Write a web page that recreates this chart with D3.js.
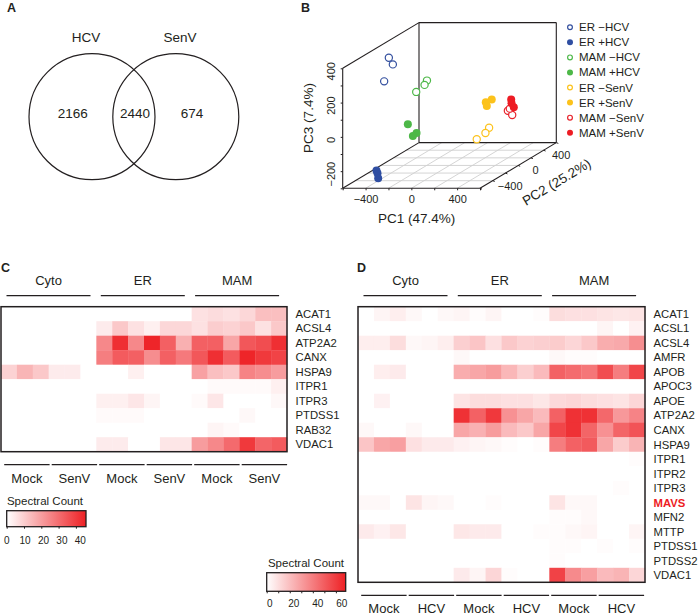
<!DOCTYPE html>
<html>
<head>
<meta charset="utf-8">
<script src="https://cdn.jsdelivr.net/npm/d3@7"></script>
<style>
  html, body { margin: 0; padding: 0; background: #fff; }
  svg { display: block; }
  text { font-family: "Liberation Sans", Arial, sans-serif; fill: #231f20; }
</style>
</head>
<body>
<div class="fig"></div>
<script>
// panel A
var vennSets = ["HCV", "SenV"];
var vennCounts = [2166, 2440, 674];

// panel B, PCA scores [PC1, PC2, PC3]
var pcaGroups = ["ER \u2212HCV", "ER +HCV", "MAM \u2212HCV", "MAM +HCV", "ER \u2212SenV", "ER +SenV", "MAM \u2212SenV", "MAM +SenV"];
var pcaColors = ["#34509f", "#2f4ea2", "#4db848", "#4db848", "#fcc21b", "#fcc21b", "#e8212a", "#ed1c24"];
var pcaFilled = [false, true, false, true, false, true, false, true];
var pcaScores = [
  [[-419, -200, 373], [-384, -200, 334], [-460, -200, 235]],
  [[-416, -400, -241], [-407, -400, -257], [-401, -400, -286]],
  [[-197, 0, 195], [-218, 0, 170], [-291, 0, 129]],
  [[-364, 0, -60], [-288, 0, -110], [-320, 0, -128]],
  [[235, 200, -124], [203, 200, -155], [127, 200, -192]],
  [[258, 200, 41], [206, 200, 24], [215, 200, 3]],
  [[399, 200, -25], [437, 200, -50], [416, 200, -13]],
  [[428, 200, 41], [431, 200, 18], [451, 200, -5]]
];
var pcaTicks = [-600, -400, -200, 0, 200, 400, 600];
var pc3Ticks = [-300, -200, -100, 0, 100, 200, 300, 400];

// panels C and D, spectral counts, 6 columns per compartment
var compartments = ["Cyto", "ER", "MAM"];
var cConditions = ["Mock", "SenV", "Mock", "SenV", "Mock", "SenV"];
var dConditions = ["Mock", "HCV", "Mock", "HCV", "Mock", "HCV"];

var cGenes = ["ACAT1", "ACSL4", "ATP2A2", "CANX", "HSPA9", "ITPR1", "ITPR3", "PTDSS1", "RAB32", "VDAC1"];
var cCounts = [
  [0,0,0,0,0,0, 0,0,0,0,0,0, 6,7,6,8,13,13],
  [0,0,0,0,0,0, 4,11,6,3,8,8, 6,10,9,11,6,11],
  [0,0,0,0,0,0, 24,42,24,44,32,16, 32,32,18,34,36,42],
  [0,0,0,0,0,0, 26,33,32,23,32,27, 34,42,33,44,40,38],
  [9,15,11,4,4,0, 0,0,3,0,0,0, 19,13,11,25,23,20],
  [0,0,0,0,0,0, 0,0,0,0,0,0, 0,1,1,1,1,3],
  [0,0,0,0,0,0, 3,3,5,2,0,0, 1,5,0,0,0,1.5],
  [0,0,0,0,0,0, 1,1,1,0,0,0, 0,0,0,1.5,0,0],
  [0,0,0,0,0,0, 0,0,0,0,0,0, 0,2,1,0,0,0],
  [0,0,0,0,0,0, 4,4,0,0,5,5, 20,24,30,40,31,33]
];

var dGenes = ["ACAT1", "ACSL1", "ACSL4", "AMFR", "APOB", "APOC3", "APOE", "ATP2A2", "CANX", "HSPA9", "ITPR1", "ITPR2", "ITPR3", "MAVS", "MFN2", "MTTP", "PTDSS1", "PTDSS2", "VDAC1"];
var dCounts = [
  [0,3,5,2,0,2, 3,1,3,0,0,1, 10,9,9,8,7,8],
  [0,0,0,0,0,0, 0,0,0,0,0,0, 0,0,0,3,0,4],
  [5,5,10,2,3,5, 14,17,9,16,13,14, 15,12,16,24,25,33],
  [0,0,0,0,0,0, 2,0,0,0,0,0, 2,1,1,0,0,0],
  [0,5,6,0,0,0, 24,26,29,21,14,20, 46,43,40,52,38,54],
  [0,0,0,0,0,0, 0,0,0,0,0,0, 0,0,0,0,0,0],
  [0,4,0,0,0,0, 8,10,10,9,9,7, 11,12,10,9,8,12],
  [0,0,0,0,0,0, 60,46,58,32,26,20, 46,60,60,44,30,36],
  [2,0,0,2,0,0, 26,23,29,20,16,26, 54,60,45,32,45,50],
  [17,26,28,9,6,6, 4,3,2,1,0,1, 38,46,48,26,15,22],
  [0,0,0,0,0,0, 0,0,0,0,0,0, 0,0,0,0,0,1],
  [0,0,0,0,0,0, 0,0,0,0,0,0, 0,0,0,0,0,0],
  [0,0,0,0,0,0, 0,0,0,0,0,0, 0,0,0,0,1,0],
  [2,2,0,8,3,2, 0,0,1,0,0,0, 8,2,2,0,0,0],
  [0,0,0,0,0,0, 0,0,0,0,0,0, 1,1,2,0,0,0],
  [6,4,7,0,0,0, 7,6,6,0,0,1, 1,2,3,0,0,3],
  [0,0,0,0,0,0, 0,0,0,0,0,0, 1,1,0,1,0,1],
  [0,0,0,0,0,0, 0,0,0,0,0,0, 1,0,0,0,0,0],
  [0,0,0,0,0,0, 6,3,12,1,0,0, 55,34,28,20,22,12]
];

var ink = "#231f20";
var red = "#ed1c24";

var svg = d3.select(".fig")
  .append("svg")
  .attr("width", 698)
  .attr("height", 615);

var defs = svg.append("defs");

function label(x, y, txt, size, anchor) {
  return svg.append("text")
    .attr("x", x)
    .attr("y", y)
    .attr("font-size", size)
    .attr("text-anchor", anchor || "middle")
    .text(txt);
}

// panel letters
[["A", 7, 11.5], ["B", 301, 11.5], ["C", 1, 271.5], ["D", 357, 271.5]].forEach(function(p) {
  label(p[1], p[2], p[0], 12.5, "start").attr("font-weight", "bold");
});

// A: venn
var vennX = d3.scaleOrdinal().domain(vennSets).range([92, 175.8]);
svg.selectAll(".venn")
  .data(vennSets)
  .enter().append("circle")
  .attr("class", "venn")
  .attr("cx", function(d) { return vennX(d); })
  .attr("cy", 116.7)
  .attr("r", 63)
  .attr("fill", "none")
  .attr("stroke", ink)
  .attr("stroke-width", 1.2);

label(86, 42, vennSets[0], 13.5);
label(180, 42, vennSets[1], 13.5);
var vennCountX = [72.7, 135, 192];
vennCounts.forEach(function(v, i) {
  label(vennCountX[i], 118, v, 13.5);
});

// B: 3D PCA, oblique projection out of three scales
var pc1 = d3.scaleLinear().domain([-600, 600]).range([342.7, 480]);
var pc3 = d3.scaleLinear().domain([-300, 400]).range([188.3, 68.3]);
var depthX = d3.scaleLinear().domain([-600, 600]).range([0, 76.3]);
var depthY = d3.scaleLinear().domain([-600, 600]).range([0, -45.7]);

function px(a, b) { return pc1(a) + depthX(b); }
function py(b, c) { return pc3(c) + depthY(b); }

var pca = svg.append("g");
var line3d = function(a0, b0, c0, a1, b1, c1) {
  return pca.append("line")
    .attr("x1", px(a0, b0)).attr("y1", py(b0, c0))
    .attr("x2", px(a1, b1)).attr("y2", py(b1, c1));
};

// floor grid
pcaTicks.slice(1, -1).forEach(function(t) {
  line3d(t, -600, -300, t, 600, -300).attr("stroke", "#cfcfcf").attr("stroke-width", 0.9);
  line3d(-600, t, -300, 600, t, -300).attr("stroke", "#cfcfcf").attr("stroke-width", 0.9);
});

// box edges
[
  [-600, -600, -300, 600, -600, -300],
  [600, -600, -300, 600, 600, -300],
  [600, 600, -300, -600, 600, -300],
  [-600, 600, -300, -600, -600, -300],
  [-600, -600, -300, -600, -600, 400],
  [-600, -600, 400, -600, 600, 400],
  [-600, 600, 400, 600, 600, 400],
  [600, 600, 400, 600, 600, -300],
  [-600, 600, 400, -600, 600, -300]
].forEach(function(e) {
  line3d(e[0], e[1], e[2], e[3], e[4], e[5]).attr("stroke", ink).attr("stroke-width", 1.1);
});

var pc1Axis = d3.axisBottom(pc1)
  .tickValues(pcaTicks)
  .tickSize(2)
  .tickPadding(5)
  .tickFormat(function(d) { return Math.abs(d) % 400 == 0 && Math.abs(d) < 600 ? String(d).replace("-", "\u2212") : ""; });

var gx = svg.append("g")
  .attr("transform", "translate(0,188.3)")
  .call(pc1Axis);
gx.select(".domain").remove();
gx.selectAll("line").attr("stroke", ink);
gx.selectAll("text").attr("font-size", 11).attr("font-family", "Liberation Sans").attr("fill", ink);

var pc3Axis = d3.axisLeft(pc3)
  .tickValues(pc3Ticks)
  .tickSize(2)
  .tickFormat(function(d) { return d % 200 == 0 ? String(d).replace("-", "\u2212") : ""; });

var gz = svg.append("g")
  .attr("transform", "translate(342.7,0)")
  .call(pc3Axis);
gz.select(".domain").remove();
gz.selectAll("line").attr("stroke", ink);
gz.selectAll("text")
  .attr("font-size", 11)
  .attr("font-family", "Liberation Sans")
  .attr("fill", ink)
  .attr("transform", "rotate(-90)")
  .attr("text-anchor", "middle")
  .attr("x", -2.5)
  .attr("y", -8)
  .attr("dy", 0);

// PC2 has no straight d3 axis, it runs along the floor edge
[-400, 0, 400].forEach(function(t) {
  label(px(600, t) + 17.5, py(t, -300) + 9, String(t).replace("-", "\u2212"), 11);
});
pcaTicks.forEach(function(t) {
  svg.append("line")
    .attr("x1", px(600, t)).attr("y1", py(t, -300))
    .attr("x2", px(600, t) + 2).attr("y2", py(t, -300) + 0.8)
    .attr("stroke", ink);
});

label(416.7, 223, "PC1 (47.4%)", 13.5);
label(0, 0, "PC3 (7.4%)", 13.5).attr("transform", "translate(313,118) rotate(-90)");
label(0, 0, "PC2 (25.2%)", 13.5).attr("transform", "translate(559,186) rotate(-31)");

pcaGroups.forEach(function(name, g) {
  pca.append("g")
    .selectAll("circle")
    .data(pcaScores[g])
    .enter().append("circle")
    .attr("cx", function(d) { return px(d[0], d[1]); })
    .attr("cy", function(d) { return py(d[1], d[2]); })
    .attr("r", pcaFilled[g] ? 4 : 3.6)
    .attr("fill", pcaFilled[g] ? pcaColors[g] : "#fff")
    .attr("stroke", pcaColors[g])
    .attr("stroke-width", pcaFilled[g] ? 0 : 1.2);
});

// B legend
var legendY = d3.scalePoint().domain(pcaGroups).range([27.3, 132.7]);
pcaGroups.forEach(function(name, g) {
  svg.append("circle")
    .attr("cx", 570)
    .attr("cy", legendY(name))
    .attr("r", pcaFilled[g] ? 3 : 2.4)
    .attr("fill", pcaFilled[g] ? pcaColors[g] : "#fff")
    .attr("stroke", pcaColors[g])
    .attr("stroke-width", pcaFilled[g] ? 0 : 1.2);
  label(579, legendY(name) + 4, name, 11.5, "start");
});

// C and D
function heatmap(o) {
  var x = d3.scaleBand().domain(d3.range(18)).range([o.left, o.right]);
  var y = d3.scaleBand().domain(o.genes).range([o.top, o.bottom]);
  var color = d3.scaleLinear().domain([0, o.max]).range(["#ffffff", "#ee2024"]).clamp(true);

  var cells = [];
  o.counts.forEach(function(row, r) {
    row.forEach(function(v, c) {
      cells.push({ gene: o.genes[r], col: c, value: v });
    });
  });

  svg.append("g")
    .selectAll("rect")
    .data(cells)
    .enter().append("rect")
    .attr("x", function(d) { return x(d.col); })
    .attr("y", function(d) { return y(d.gene); })
    .attr("width", x.bandwidth() + 0.3)
    .attr("height", y.bandwidth() + 0.3)
    .attr("fill", function(d) { return color(d.value); });

  svg.append("rect")
    .attr("x", o.left)
    .attr("y", o.top)
    .attr("width", o.right - o.left)
    .attr("height", o.bottom - o.top)
    .attr("fill", "none")
    .attr("stroke", ink)
    .attr("stroke-width", 1.5);

  o.genes.forEach(function(g) {
    var t = label(o.right + 8.5, y(g) + y.bandwidth() / 2 + 4, g, 11.3, "start");
    if (g == "MAVS") {
      t.attr("font-weight", "bold").style("fill", red);
    }
  });

  compartments.forEach(function(c, i) {
    var x0 = o.left + 5.5 + i * 94.3;
    svg.append("line")
      .attr("x1", x0).attr("x2", x0 + 84)
      .attr("y1", 295.7).attr("y2", 295.7)
      .attr("stroke", ink).attr("stroke-width", 1.2);
    label(x0 + 42, 285, c, 13);
  });

  o.conditions.forEach(function(c, i) {
    var x0 = o.left + 3.2 + i * 47.5;
    svg.append("line")
      .attr("x1", x0).attr("x2", x0 + 45.4)
      .attr("y1", o.bottom + 13).attr("y2", o.bottom + 13)
      .attr("stroke", ink).attr("stroke-width", 1.2);
    label(x0 + 22.7, o.bottom + 31, c, 13);
  });
}

heatmap({ left: 1, right: 287, top: 306.7, bottom: 451.7, genes: cGenes, counts: cCounts, conditions: cConditions, max: 45 });
heatmap({ left: 358, right: 645, top: 306.7, bottom: 582.3, genes: dGenes, counts: dCounts, conditions: dConditions, max: 65 });

// colour keys
function colorKey(o) {
  var grad = defs.append("linearGradient").attr("id", o.id);
  grad.append("stop").attr("offset", "0%").attr("stop-color", "#ffffff");
  grad.append("stop").attr("offset", "100%").attr("stop-color", "#ee2024");

  svg.append("rect")
    .attr("x", o.x0)
    .attr("y", o.y0)
    .attr("width", o.x1 - o.x0)
    .attr("height", o.y1 - o.y0)
    .attr("fill", "url(#" + o.id + ")")
    .attr("stroke", ink)
    .attr("stroke-width", 1.3);

  label(o.titleX, o.y0 - 5.5, "Spectral Count", 11.5);

  var tickScale = d3.scaleLinear().domain([0, 10]).range([o.x0, o.x0 + o.tickStep]);
  var marks = svg.append("g")
    .attr("transform", "translate(0," + o.y1 + ")")
    .call(d3.axisBottom(tickScale).tickValues(o.tickValues).tickSize(2).tickFormat(""));
  marks.select(".domain").remove();
  marks.selectAll("line").attr("stroke", ink);

  var labelScale = d3.scaleLinear().domain([0, o.labels[1]]).range([o.labelX, o.labelX + o.labelStep]);
  o.labels.forEach(function(v) {
    label(labelScale(v), o.y1 + o.labelDy, v, 10);
  });
}

colorKey({ id: "keyC", x0: 6.7, x1: 86, y0: 510.7, y1: 526.7, titleX: 45, tickStep: 17.3,
  tickValues: [0, 10, 20, 30, 40], labels: [0, 10, 20, 30, 40], labelX: 6.7, labelStep: 18.4, labelDy: 17.5 });
colorKey({ id: "keyD", x0: 266.7, x1: 345.7, y0: 572.7, y1: 591.3, titleX: 306, tickStep: 11.53,
  tickValues: [0, 10, 20, 30, 40, 50, 60], labels: [0, 20, 40, 60], labelX: 269.7, labelStep: 24, labelDy: 15.5 });
</script>
</body>
</html>
